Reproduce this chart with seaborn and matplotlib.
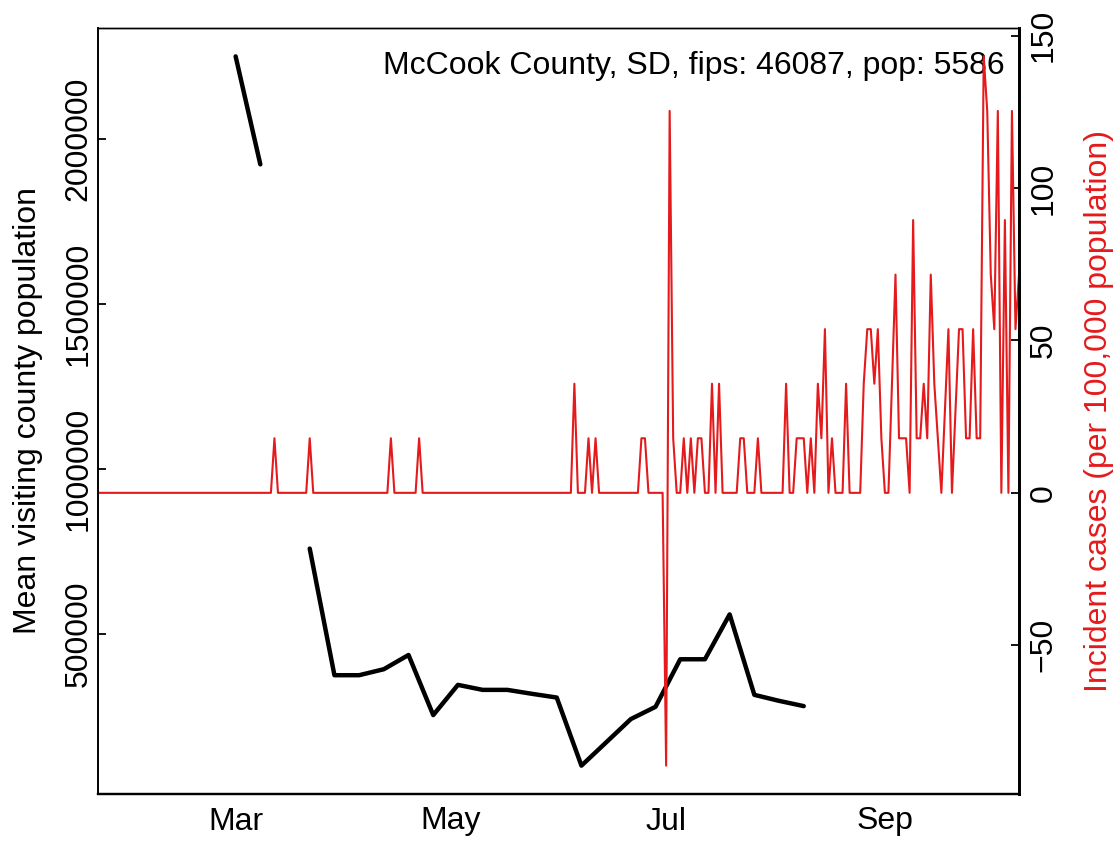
import numpy as np
import pandas as pd
import matplotlib
matplotlib.use("Agg")
import matplotlib.pyplot as plt
import matplotlib.dates as mdates
import seaborn as sns

county_label = "McCook County, SD, fips: 46087, pop: 5586"
population = 5586
case_color = "#E41A1C"

# weekly mean visiting county population (Sundays), gap on Mar 15
visit_dates = pd.date_range("2020-03-01", "2020-08-09", freq="7D")
visit_pop = [2251500, 1923700, np.nan, 757800, 373500, 373500, 391700, 434900,
             252500, 344200, 329000, 329000, 317000, 305700, 99100, 169600,
             240400, 277600, 421900, 421900, 558100, 313900, 295700, 279700]

# daily new cases, Jan 22 - Oct 9 2020
cases_jan = [0, 0, 0, 0, 0, 0, 0, 0, 0, 0]
cases_feb = [0, 0, 0, 0, 0, 0, 0, 0, 0, 0, 0, 0, 0, 0, 0, 0, 0, 0, 0, 0,
             0, 0, 0, 0, 0, 0, 0, 0, 0]
cases_mar = [0, 0, 0, 0, 0, 0, 0, 0, 0, 0, 0, 1, 0, 0, 0, 0, 0, 0, 0, 0,
             0, 1, 0, 0, 0, 0, 0, 0, 0, 0, 0]
cases_apr = [0, 0, 0, 0, 0, 0, 0, 0, 0, 0, 0, 0, 0, 1, 0, 0, 0, 0, 0, 0,
             0, 1, 0, 0, 0, 0, 0, 0, 0, 0]
cases_may = [0, 0, 0, 0, 0, 0, 0, 0, 0, 0, 0, 0, 0, 0, 0, 0, 0, 0, 0, 0,
             0, 0, 0, 0, 0, 0, 0, 0, 0, 0, 0]
cases_jun = [0, 0, 0, 0, 2, 0, 0, 0, 1, 0, 1, 0, 0, 0, 0, 0, 0, 0, 0, 0,
             0, 0, 0, 1, 1, 0, 0, 0, 0, 0]
cases_jul = [-5, 7, 1, 0, 0, 1, 0, 1, 0, 1, 1, 0, 0, 2, 0, 2, 0, 0, 0, 0,
             0, 1, 1, 0, 0, 0, 1, 0, 0, 0, 0]
cases_aug = [0, 0, 0, 2, 0, 0, 1, 1, 1, 0, 1, 0, 2, 1, 3, 0, 1, 0, 0, 0,
             2, 0, 0, 0, 0, 2, 3, 3, 2, 3, 1]
cases_sep = [0, 0, 2, 4, 1, 1, 1, 0, 5, 1, 1, 2, 1, 4, 2, 1, 0, 1.5, 3, 0,
             1.5, 3, 3, 1, 1, 3, 1, 1, 8, 7]
cases_oct = [4, 3, 7, 0, 5, 0, 7, 3, 4]

daily_cases = (cases_jan + cases_feb + cases_mar + cases_apr + cases_may
               + cases_jun + cases_jul + cases_aug + cases_sep + cases_oct)
case_dates = pd.date_range("2020-01-22", periods=len(daily_cases), freq="D")


def r_range(values):
    # base R style axis range: data range plus 4% each side
    lo, hi = np.nanmin(values), np.nanmax(values)
    pad = 0.04 * (hi - lo)
    return lo - pad, hi + pad


df_visit = pd.DataFrame({"date": visit_dates, "visitors": visit_pop})
df_visit["segment"] = df_visit["visitors"].isna().cumsum()
df_visit = df_visit.dropna()

df_cases = pd.DataFrame({"date": case_dates,
                         "incidence": np.array(daily_cases) * 1e5 / population})

sns.set_theme(style="white")
plt.rcParams["font.family"] = ["Liberation Sans", "DejaVu Sans"]
plt.rcParams["axes.unicode_minus"] = True
plt.rcParams["text.color"] = "black"
plt.rcParams["axes.labelcolor"] = "black"

fs = 23

fig, ax = plt.subplots(figsize=(11.19, 8.42), dpi=100)
fig.subplots_adjust(left=98 / 1119, right=1019 / 1119,
                    bottom=1 - 794 / 842, top=1 - 28 / 842)

sns.lineplot(data=df_visit, x="date", y="visitors", units="segment",
             estimator=None, color="black", linewidth=3.2, ax=ax)
ax.set_ylim(*r_range(visit_pop))
ax.set_xlim(case_dates[0], case_dates[-1])
ax.set_yticks([500000, 1000000, 1500000, 2000000])
ax.set_yticklabels(["500000", "1000000", "1500000", "2000000"])
ax.xaxis.set_major_locator(mdates.MonthLocator(bymonth=[3, 5, 7, 9]))
ax.xaxis.set_major_formatter(mdates.DateFormatter("%b"))
ax.set_xlabel("")
ax.set_ylabel("Mean visiting county population", fontsize=fs, labelpad=15)
ax.tick_params(axis="both", direction="in", length=6, width=1.3,
               labelsize=fs, colors="black")
ax.tick_params(axis="x", pad=9)
ax.tick_params(axis="y", labelrotation=90, pad=3)
plt.setp(ax.get_yticklabels(), va="center")
ax.text(0.984, 0.95, county_label, transform=ax.transAxes,
        ha="right", va="center", fontsize=fs)

ax2 = ax.twinx()
sns.lineplot(data=df_cases, x="date", y="incidence", color=case_color,
             linewidth=1.5, ax=ax2)
ax2.set_ylim(*r_range(df_cases["incidence"]))
ax2.set_yticks([-50, 0, 50, 100, 150])
ax2.set_xlim(case_dates[0], case_dates[-1])
ax2.set_ylabel("Incident cases (per 100,000 population)", color=case_color,
               fontsize=fs, labelpad=18)
ax2.tick_params(axis="y", direction="in", length=6, width=1.3,
                labelsize=fs, labelrotation=90, pad=7, colors="black")
plt.setp(ax2.get_yticklabels(), va="center")

for a in (ax, ax2):
    for side, lw in (("left", 1.2), ("top", 1.0), ("bottom", 1.6), ("right", 2.0)):
        a.spines[side].set_visible(True)
        a.spines[side].set_color("black")
        a.spines[side].set_linewidth(lw)

fig.savefig("out.png", dpi=100)
